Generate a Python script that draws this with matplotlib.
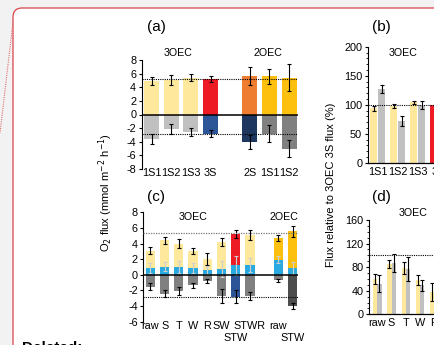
import matplotlib
matplotlib.use('Agg')
import matplotlib.pyplot as plt
from matplotlib.patches import FancyBboxPatch
from matplotlib.lines import Line2D
from matplotlib.transforms import IdentityTransform
from matplotlib.ticker import MultipleLocator

plt.rcParams['font.family'] = ['Liberation Sans', 'DejaVu Sans']
plt.rcParams['axes.unicode_minus'] = False

# ---------------- data ----------------
# panel (a)
a_labels = ['1S1', '1S2', '1S3', '3S', '2S', '1S1', '1S2']
a_pos_vals = [4.9, 5.1, 5.4, 5.2, 5.6, 5.6, 5.4]
a_pos_err = [0.6, 0.7, 0.5, 0.5, 1.3, 1.1, 2.0]
a_neg_vals = [-3.6, -2.1, -2.6, -2.8, -4.0, -2.8, -5.0]
a_neg_err = [0.7, 0.7, 0.6, 0.5, 1.0, 1.3, 1.3]
a_ref_lines = [5.2, -2.8]

# panel (b)
b_labels = ['1S1', '1S2', '1S3', '3S']
b_first = [94, 98, 104, 100]
b_first_err = [4, 4, 3, 0]
b_second = [127, 72, 99, 100]
b_second_err = [7, 9, 7, 0]

# panel (c)
c_labels = ['raw', 'S', 'T', 'W', 'R', 'SW', '\nSTW', 'STWR', 'raw', '\nSTW']
c_total = [3.1, 4.4, 4.0, 3.05, 2.0, 4.2, 5.2, 5.1, 4.7, 5.6]
c_total_err = [0.5, 0.4, 0.6, 0.4, 0.8, 0.5, 0.5, 0.6, 0.4, 0.7]
c_blue = [0.85, 1.05, 1.0, 0.85, 0.6, 0.75, 1.2, 1.2, 1.95, 0.85]
c_blue_err = [0.6, 0.6, 0.8, 0.6, 0.5, 1.0, 1.2, 0.9, 0.5, 0.8]
c_neg = [-1.5, -2.4, -2.05, -1.35, -0.8, -2.7, -2.8, -2.7, -0.7, -3.95]
c_neg_err = [0.4, 0.4, 0.5, 0.3, 0.3, 0.9, 0.8, 0.5, 0.2, 0.4]
c_ref_lines = [5.3, -2.8]

# panel (d)
d_labels = ['raw', 'S', 'T', 'W', 'R']
d_first = [60, 85, 78, 58, 38]
d_first_err = [8, 7, 10, 8, 15]
d_second = [52, 87, 77, 49, 30]
d_second_err = [15, 15, 20, 10, 12]

# ---------------- colours ----------------
LY = '#fde89c'
LG = '#c0c0c0'
RED = '#ed1c24'
ORANGE = '#ee7d31'
GOLD = '#fec00f'
NAVY = '#2b5597'
DNAVY = '#1d375f'
MG = '#808080'
DG = '#4d4d4d'
BLUE = '#29a9e0'

W, H = 435, 345
fig = plt.figure(figsize=(W / 100, H / 100), dpi=100)
fig.patch.set_facecolor('#f2f2f2')

# comment box background
box = FancyBboxPatch((13, -60), 600, H - 8 + 60, boxstyle='round,pad=0,rounding_size=9',
                     transform=IdentityTransform(), facecolor='white', edgecolor='#d9434b',
                     linewidth=0.9, zorder=-5)
fig.patches.append(box)
fig.lines.append(Line2D([13, 0], [H - 22, H - 133], transform=IdentityTransform(),
                        color='#e07070', linestyle=(0, (1, 1)), linewidth=0.8, zorder=-4))
fig.text(22 / W, 1 - 340.5 / H, 'Deleted:', fontsize=11, fontweight='bold', va='top', ha='left')


def ax_px(x0, x1, ytop, ybot):
    a = fig.add_axes([x0 / W, 1 - ybot / H, (x1 - x0) / W, (ybot - ytop) / H])
    a.patch.set_alpha(0)
    a.set_zorder(1)
    for s in ['top', 'right']:
        a.spines[s].set_visible(False)
    return a


TICK_FS = 7.8
ekw = dict(ecolor='black', elinewidth=0.8, capsize=1.3, capthick=0.8)

# ---------------- panel (a) ----------------
axa = ax_px(141.7, 298, 60, 169)
pos_a = [0, 1, 2, 3, 5, 6, 7]
top_cols_a = [LY, LY, LY, RED, ORANGE, GOLD, GOLD]
neg_cols_a = [LG, LG, LG, NAVY, DNAVY, MG, MG]
axa.bar(pos_a, a_pos_vals, width=0.75, color=top_cols_a, zorder=2)
axa.bar(pos_a, a_neg_vals, width=0.75, color=neg_cols_a, zorder=2)
axa.errorbar(pos_a, a_pos_vals, yerr=a_pos_err, fmt='none', zorder=3, **ekw)
axa.errorbar(pos_a, a_neg_vals, yerr=a_neg_err, fmt='none', zorder=3, **ekw)
axa.axhline(0, color='black', lw=1.1, zorder=4)
for v in a_ref_lines:
    axa.axhline(v, color='black', lw=0.8, linestyle=(0, (1, 1)), zorder=4)
axa.set_xlim(-0.5, 7.45)
axa.set_ylim(-8, 8)
axa.yaxis.set_major_locator(MultipleLocator(2))
axa.spines['bottom'].set_visible(False)
axa.set_xticks(pos_a)
axa.set_xticklabels(a_labels)
axa.tick_params(axis='x', length=0, pad=-1, labelsize=TICK_FS)
axa.tick_params(axis='y', length=2.5, width=0.8, pad=1.5, labelsize=TICK_FS)
axa.spines['left'].set_linewidth(0.8)

# ---------------- panel (c) ----------------
axc = ax_px(143.3, 298.3, 212.3, 321.7)
pos_c = [0, 1, 2, 3, 4, 5, 6, 7, 9, 10]
top_cols_c = [LY] * 6 + [RED, LY, GOLD, GOLD]
neg_cols_c = [MG] * 6 + [NAVY, MG, MG, DG]
axc.bar(pos_c, c_total, width=0.65, color=top_cols_c, zorder=2)
axc.bar(pos_c, c_blue, width=0.65, color=BLUE, zorder=2.5)
axc.bar(pos_c, c_neg, width=0.65, color=neg_cols_c, zorder=2)
axc.errorbar(pos_c, c_total, yerr=c_total_err, fmt='none', zorder=3, **ekw)
axc.errorbar(pos_c, c_blue, yerr=c_blue_err, fmt='none', zorder=3,
             ecolor='#cfcfcf', elinewidth=0.8, capsize=1.3, capthick=0.8)
axc.errorbar(pos_c, c_neg, yerr=c_neg_err, fmt='none', zorder=3, **ekw)
axc.axhline(0, color='black', lw=1.1, zorder=4)
axc.axhline(c_ref_lines[0], color='#777777', lw=0.9, linestyle=(0, (1, 1)), zorder=4)
axc.axhline(c_ref_lines[1], color='black', lw=0.8, linestyle=(0, (1, 1)), zorder=4)
axc.set_xlim(-0.5, 10.4)
axc.set_ylim(-6, 8)
axc.yaxis.set_major_locator(MultipleLocator(2))
axc.spines['bottom'].set_visible(False)
axc.set_xticks(pos_c)
axc.set_xticklabels(c_labels, linespacing=1.25)
axc.tick_params(axis='x', length=0, pad=-0.5, labelsize=TICK_FS)
axc.tick_params(axis='y', length=2.5, width=0.8, pad=1.5, labelsize=TICK_FS)
axc.spines['left'].set_linewidth(0.8)

# ---------------- panel (b) ----------------
axb = ax_px(367.7, 560, 46.7, 162.7)
gb = list(range(len(b_labels)))
b_cols1 = [LY, LY, LY, RED]
b_cols2 = [LG, LG, LG, NAVY]
axb.bar([g - 0.2 for g in gb], b_first, width=0.36, color=b_cols1, zorder=2)
axb.bar([g + 0.2 for g in gb], b_second, width=0.36, color=b_cols2, zorder=2)
axb.errorbar([g - 0.2 for g in gb[:3]], b_first[:3], yerr=b_first_err[:3], fmt='none', zorder=3, **ekw)
axb.errorbar([g + 0.2 for g in gb[:3]], b_second[:3], yerr=b_second_err[:3], fmt='none', zorder=3, **ekw)
axb.axhline(100, color='black', lw=0.8, linestyle=(0, (1, 1)), zorder=4)
axb.set_xlim(-0.5, 9.1)
axb.set_ylim(0, 200)
axb.yaxis.set_major_locator(MultipleLocator(50))
axb.yaxis.set_minor_locator(MultipleLocator(10))
axb.set_xticks(gb)
axb.set_xticklabels(b_labels)
axb.tick_params(axis='x', length=0, pad=3, labelsize=TICK_FS)
axb.tick_params(axis='y', which='major', length=2.5, width=0.8, pad=1.5, labelsize=TICK_FS)
axb.tick_params(axis='y', which='minor', length=1.5, width=0.6)
axb.spines['left'].set_linewidth(0.8)
axb.spines['bottom'].set_linewidth(0.9)

# ---------------- panel (d) ----------------
axd = ax_px(369.3, 560, 220, 314.3)
gd = list(range(len(d_labels)))
axd.bar([g - 0.15 for g in gd], d_first, width=0.3, color=LY, zorder=2)
axd.bar([g + 0.15 for g in gd], d_second, width=0.3, color=LG, zorder=2)
axd.errorbar([g - 0.15 for g in gd], d_first, yerr=d_first_err, fmt='none', zorder=3, **ekw)
axd.errorbar([g + 0.15 for g in gd], d_second, yerr=d_second_err, fmt='none', zorder=3, **ekw)
axd.axhline(100, color='black', lw=0.8, linestyle=(0, (1, 1)), zorder=4)
axd.set_xlim(-0.56, 12.8)
axd.set_ylim(0, 160)
axd.yaxis.set_major_locator(MultipleLocator(40))
axd.yaxis.set_minor_locator(MultipleLocator(10))
axd.set_xticks(gd)
axd.set_xticklabels(d_labels)
axd.tick_params(axis='x', length=0, pad=2.5, labelsize=TICK_FS)
axd.tick_params(axis='y', which='major', length=2.5, width=0.8, pad=1.5, labelsize=TICK_FS)
axd.tick_params(axis='y', which='minor', length=1.5, width=0.6)
axd.spines['left'].set_linewidth(0.8)
axd.spines['bottom'].set_linewidth(0.9)

# ---------------- texts ----------------
def ftext(x, y, s, **kw):
    fig.text(x / W, 1 - y / H, s, ha='center', va='center', **kw)

ftext(156, 27, '(a)', fontsize=11)
ftext(381, 27, '(b)', fontsize=11)
ftext(156, 197, '(c)', fontsize=11)
ftext(381, 197, '(d)', fontsize=11)
ftext(178, 53, '3OEC', fontsize=7.7)
ftext(268, 53, '2OEC', fontsize=7.7)
ftext(403, 53, '3OEC', fontsize=7.7)
ftext(193, 217, '3OEC', fontsize=7.7)
ftext(284, 217, '2OEC', fontsize=7.7)
ftext(413, 213, '3OEC', fontsize=7.7)
ftext(106, 193, r'O$_2$ flux (mmol m$^{-2}$ h$^{-1}$)', fontsize=8, rotation=90)
ftext(331, 185, 'Flux relative to 3OEC 3S flux (%)', fontsize=8, rotation=90)

fig.savefig('out.png', dpi=100, facecolor=fig.get_facecolor())
